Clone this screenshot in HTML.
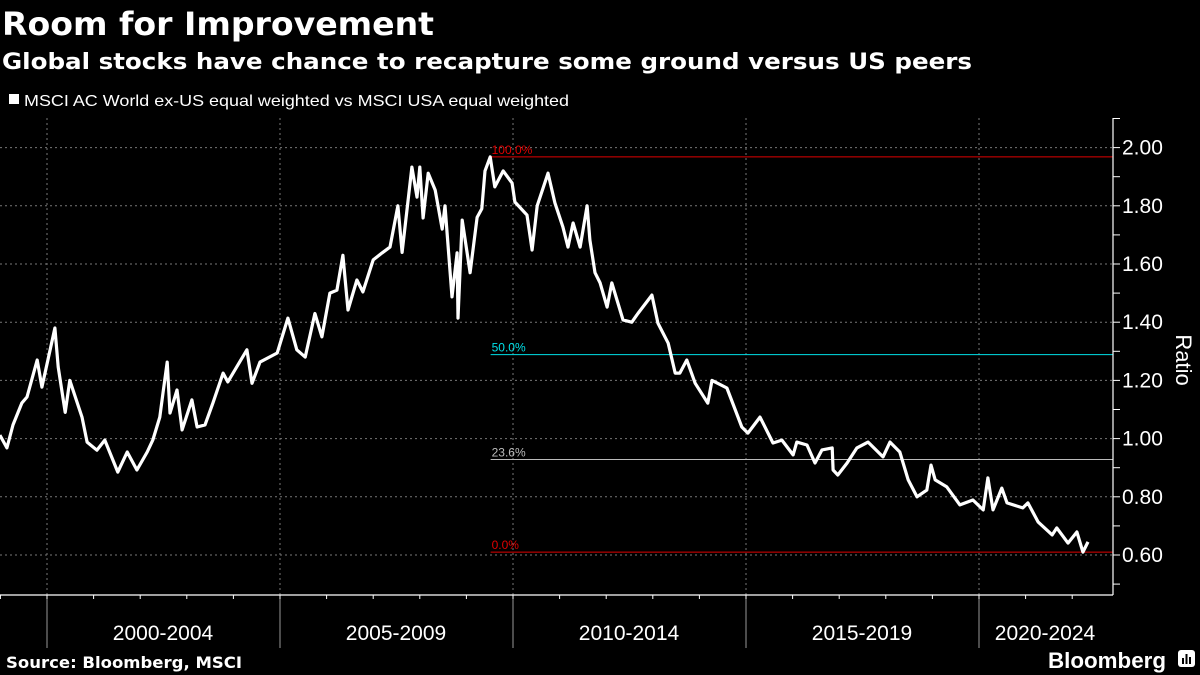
<!DOCTYPE html>
<html><head><meta charset="utf-8"><style>
html,body{margin:0;padding:0;background:#000;}
svg{display:block;}
.dv{font-family:"DejaVu Sans","Liberation Sans",sans-serif;font-weight:bold;fill:#fff;}
.nr{font-family:"Liberation Sans Narrow","Liberation Sans",sans-serif;fill:#fff;}
</style></head><body>
<svg id="chart" width="1200" height="675" viewBox="0 0 1200 675" xmlns="http://www.w3.org/2000/svg">
<rect width="1200" height="675" fill="#000"/>
<text class="dv" x="2" y="35" font-size="32" textLength="432" lengthAdjust="spacingAndGlyphs">Room for Improvement</text>
<text class="dv" x="2" y="69" font-size="22" textLength="970" lengthAdjust="spacingAndGlyphs">Global stocks have chance to recapture some ground versus US peers</text>
<rect x="9" y="94" width="10" height="10" fill="#fff"/>
<text class="nr" x="24" y="106" font-size="16" textLength="545" lengthAdjust="spacingAndGlyphs">MSCI AC World ex-US equal weighted vs MSCI USA equal weighted</text>
<g id="grid"></g>
<g id="fib"></g>
<g id="series"></g>
<g id="axes"></g>
<text class="nr" font-size="22" transform="translate(1176,360) rotate(90)" text-anchor="middle">Ratio</text>
<text class="dv" x="6" y="668" font-size="16" textLength="236" lengthAdjust="spacingAndGlyphs">Source: Bloomberg, MSCI</text>
<text x="1048" y="668" font-family="'Liberation Sans',sans-serif" font-weight="bold" font-size="22" fill="#fff" textLength="118" lengthAdjust="spacingAndGlyphs">Bloomberg</text>
<g><rect x="1178" y="650" width="17" height="17" rx="3" fill="#fff"/><rect x="1182" y="658" width="2" height="6" fill="#000"/><rect x="1185.5" y="654" width="2" height="10" fill="#000"/><rect x="1189" y="657" width="2" height="7" fill="#000"/></g>
</svg>
<script>
const dates=[1998.99,1999.14,1999.27,1999.46,1999.57,1999.79,1999.89,2000.02,2000.17,2000.24,2000.39,2000.49,2000.75,2000.86,2001.07,2001.24,2001.52,2001.72,2001.93,2002.15,2002.27,2002.42,2002.49,2002.58,2002.64,2002.79,2002.90,2003.11,2003.22,2003.39,2003.56,2003.78,2003.88,2004.29,2004.40,2004.57,2004.94,2005.17,2005.36,2005.54,2005.75,2005.90,2006.07,2006.22,2006.35,2006.46,2006.65,2006.78,2007.00,2007.19,2007.36,2007.53,2007.62,2007.83,2007.94,2008.00,2008.07,2008.18,2008.33,2008.48,2008.54,2008.69,2008.80,2008.82,2008.91,2009.08,2009.23,2009.33,2009.40,2009.51,2009.61,2009.79,2009.98,2010.04,2010.30,2010.41,2010.52,2010.75,2010.90,2011.07,2011.18,2011.29,2011.44,2011.59,2011.65,2011.76,2011.87,2012.02,2012.12,2012.36,2012.55,2012.68,2012.98,2013.11,2013.33,2013.48,2013.58,2013.73,2013.91,2014.18,2014.27,2014.59,2014.91,2015.04,2015.30,2015.58,2015.77,2016.01,2016.09,2016.31,2016.48,2016.63,2016.85,2016.87,2016.97,2017.17,2017.38,2017.62,2017.94,2018.09,2018.30,2018.48,2018.67,2018.88,2018.97,2019.06,2019.31,2019.59,2019.87,2020.09,2020.19,2020.30,2020.49,2020.60,2020.94,2021.05,2021.27,2021.57,2021.67,2021.91,2022.10,2022.23,2022.34];
const ratio=[1.012,0.968,1.047,1.122,1.143,1.27,1.177,1.27,1.38,1.246,1.09,1.20,1.074,0.988,0.96,0.995,0.885,0.954,0.892,0.954,0.995,1.074,1.157,1.263,1.088,1.167,1.03,1.133,1.04,1.047,1.122,1.225,1.195,1.305,1.19,1.263,1.294,1.414,1.305,1.28,1.43,1.35,1.50,1.51,1.63,1.442,1.545,1.504,1.614,1.638,1.658,1.80,1.64,1.933,1.83,1.933,1.758,1.912,1.854,1.72,1.80,1.487,1.638,1.414,1.751,1.57,1.76,1.79,1.92,1.968,1.865,1.92,1.878,1.813,1.768,1.648,1.80,1.912,1.81,1.727,1.658,1.741,1.658,1.80,1.682,1.57,1.535,1.452,1.535,1.408,1.40,1.43,1.493,1.397,1.328,1.225,1.225,1.27,1.19,1.122,1.20,1.174,1.04,1.019,1.074,0.985,0.995,0.944,0.988,0.978,0.916,0.961,0.968,0.892,0.875,0.916,0.968,0.988,0.937,0.988,0.954,0.858,0.80,0.823,0.909,0.858,0.834,0.772,0.789,0.755,0.865,0.755,0.830,0.779,0.762,0.779,0.713,0.669,0.693,0.641,0.679,0.61,0.645];
const yTicks=[0.6,0.8,1.0,1.2,1.4,1.6,1.8,2.0];
const yTickLabels=["0.60","0.80","1.00","1.20","1.40","1.60","1.80","2.00"];
const periodLabels=["2000-2004","2005-2009","2010-2014","2015-2019","2020-2024"];
const periodStarts=[2000,2005,2010,2015,2020];
const fibLevels=[1.968,1.2885,0.9281,0.61];
const fibLabels=["100.0%","50.0%","23.6%","0.0%"];
const fibColors=["#e00000","#00e0e8","#bbbbbb","#e00000"];
const fibStart=2009.52;

const NS="http://www.w3.org/2000/svg";
const xS=t=>47+(t-2000)*46.6;
const yS=v=>555-(v-0.6)*291;
const PR=1113, PB=595;
function mk(tag,attrs,parent){const e=document.createElementNS(NS,tag);for(const k in attrs)e.setAttribute(k,attrs[k]);parent.appendChild(e);return e;}
const grid=document.getElementById('grid'),fib=document.getElementById('fib'),ser=document.getElementById('series'),axes=document.getElementById('axes');
yTicks.forEach((v,i)=>{
  const g=mk('line',{x1:0,x2:PR,y1:yS(v),y2:yS(v),stroke:'#777','stroke-width':1,'stroke-dasharray':'2,3'},grid);
  
  
  const t=mk('line',{x1:PR,x2:PR+7,y1:yS(v),y2:yS(v),stroke:'#fff','stroke-width':1},axes);
  
  
  const m=mk('line',{x1:PR,x2:PR+7,y1:yS(v+0.1),y2:yS(v+0.1),stroke:'#fff','stroke-width':1},axes);
  
  
  const l=mk('text',{x:PR+9,y:yS(v)+7,'font-size':21,class:'nr'},axes);
  l.textContent=yTickLabels[i];
  
  
});
{const m=mk('line',{x1:PR,x2:PR+7,y1:yS(0.5),y2:yS(0.5),stroke:'#fff'},axes);

}
periodStarts.forEach((p,i)=>{
  const x=xS(p);
  const g=mk('line',{x1:x,x2:x,y1:118,y2:PB,stroke:'#777','stroke-width':1,'stroke-dasharray':'2,3'},grid);
  
  
  const d=mk('line',{x1:x,x2:x,y1:PB,y2:648,stroke:'#999','stroke-width':1},axes);
  
  
  const l=mk('text',{x:Math.min(x+116,1045),y:640,'font-size':21,class:'nr','text-anchor':'middle'},axes);
  l.textContent=periodLabels[i];
  
  
});
for(let yr=1999;yr<=2024;yr++){const x=xS(yr);if(x<0||x>PR)continue;
  const t=mk('line',{x1:x,x2:x,y1:PB,y2:PB+4,stroke:'#fff'},axes);
  
  }
{const a=mk('line',{x1:0,x2:PR,y1:PB,y2:PB,stroke:'#fff','stroke-width':1.2},axes);


const b=mk('line',{x1:PR,x2:PR,y1:118,y2:PB,stroke:'#fff','stroke-width':1.2},axes);

}
fibLevels.forEach((v,i)=>{
  const x0=xS(fibStart);
  const l=mk('line',{x1:x0,x2:PR,y1:yS(v),y2:yS(v),stroke:fibColors[i],'stroke-width':1},fib);
  
  
  const t=mk('text',{x:x0+1,y:yS(v)-3,'font-size':12,fill:fibColors[i],'font-family':'"Liberation Sans Narrow","Liberation Sans",sans-serif'},fib);
  t.textContent=fibLabels[i];
  
  
});
{const d=dates.map((t,i)=>(i?'L':'M')+xS(t).toFixed(1)+','+yS(ratio[i]).toFixed(1)).join('');
const p=mk('path',{d:d,fill:'none',stroke:'#fff','stroke-width':3.2,'stroke-linejoin':'round'},ser);

}
</script>
</body></html>
